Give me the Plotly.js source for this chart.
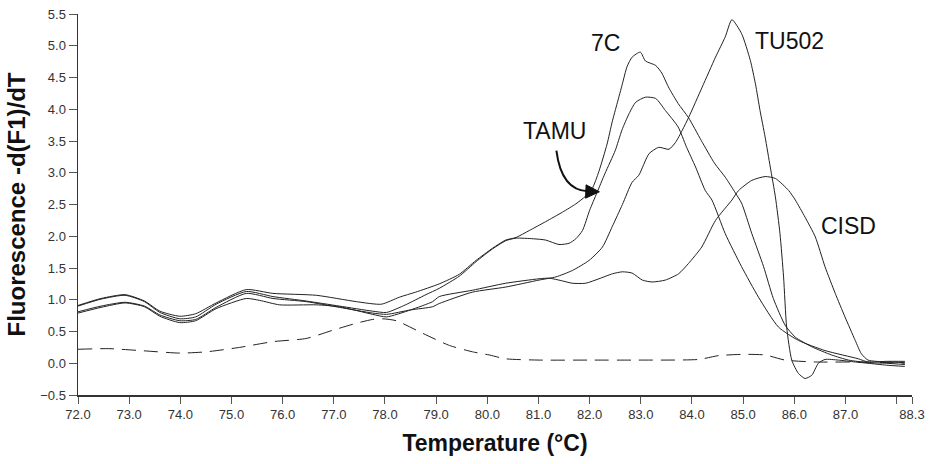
<!DOCTYPE html>
<html>
<head>
<meta charset="utf-8">
<script src="https://cdn.plot.ly/plotly-3.0.1.min.js"></script>
<style>
  html, body { margin: 0; padding: 0; background: #fff; }
  #chart { width: 932px; height: 464px; }
</style>
</head>
<body>
<div id="chart"></div>
<script>
// ---- data ----
const t7C = [72.0,72.45,72.92,73.3,73.6,73.99,74.3,74.7,75.29,75.81,76.66,77.44,77.93,78.28,78.6,79.06,79.45,79.78,80.10,80.36,80.56,80.82,81.14,81.47,81.73,81.92,82.05,82.18,82.34,82.44,82.54,82.64,82.73,82.83,82.99,83.09,83.29,83.41,83.54,83.73,83.93,84.18,84.44,84.65,84.85,84.97,85.17,85.40,85.59,85.82,86.02,86.34,86.73,87.06,87.44,87.8,88.16];
const v7C = [0.91,1.02,1.08,0.98,0.82,0.74,0.78,0.95,1.16,1.10,1.07,0.97,0.93,1.04,1.12,1.25,1.40,1.62,1.81,1.94,1.98,2.09,2.23,2.38,2.51,2.63,2.75,3.02,3.45,3.80,4.10,4.40,4.67,4.82,4.90,4.76,4.69,4.57,4.35,4.09,3.87,3.51,3.15,2.93,2.68,2.52,2.04,1.52,1.02,0.60,0.41,0.26,0.13,0.05,0.01,0.0,-0.02];

const tTAMU = [72.0,72.45,72.92,73.3,73.6,73.99,74.3,74.7,75.29,75.81,76.46,77.11,77.76,78.03,78.4,78.8,79.06,79.45,79.78,80.10,80.36,80.56,80.9,81.14,81.4,81.6,81.73,81.86,82.0,82.14,82.3,82.5,82.63,82.77,82.9,83.09,83.29,83.48,83.73,83.89,84.07,84.26,84.39,84.65,84.97,85.30,85.69,86.08,86.60,87.25,87.44,87.8,88.16];
const vTAMU = [0.90,1.01,1.07,0.97,0.80,0.70,0.73,0.93,1.13,1.05,0.98,0.90,0.82,0.80,0.92,1.08,1.18,1.37,1.60,1.80,1.93,1.97,1.96,1.94,1.87,1.89,1.96,2.09,2.41,2.68,2.99,3.35,3.67,3.93,4.11,4.19,4.17,3.98,3.72,3.41,3.09,2.72,2.57,2.04,1.52,1.04,0.57,0.36,0.20,0.07,0.02,0.03,0.03];

const tTU502 = [72.0,72.45,72.92,73.3,73.6,73.99,74.3,74.7,75.29,75.81,76.46,77.11,77.76,78.03,78.5,78.93,79.06,79.71,80.36,81.01,81.34,81.66,81.99,82.25,82.44,82.64,82.83,82.96,83.16,83.35,83.55,83.68,83.81,83.94,84.2,84.46,84.65,84.78,84.97,85.14,85.24,85.33,85.43,85.53,85.63,85.72,85.79,85.85,85.95,86.08,86.21,86.34,86.47,86.6,86.86,87.19,87.44,87.8,88.16];
const vTU502 = [0.81,0.90,0.96,0.90,0.76,0.67,0.69,0.88,1.10,1.02,0.97,0.88,0.79,0.77,0.84,0.89,0.94,1.12,1.20,1.31,1.36,1.46,1.62,1.83,2.15,2.50,2.85,2.96,3.30,3.40,3.37,3.48,3.67,3.88,4.35,4.82,5.14,5.41,5.19,4.77,4.40,3.98,3.56,3.09,2.62,2.04,1.36,0.57,0.05,-0.16,-0.24,-0.19,0.0,0.06,0.05,0.02,0.0,-0.03,-0.05];

const tCISD = [72.0,72.45,72.92,73.3,73.6,73.99,74.3,74.7,75.29,75.55,75.94,76.66,77.11,77.76,78.03,78.5,78.93,79.06,79.71,80.36,81.01,81.21,81.45,81.66,81.92,82.18,82.45,82.64,82.83,83.03,83.22,83.48,83.74,83.93,84.19,84.46,84.78,84.91,85.17,85.43,85.63,85.89,86.02,86.21,86.41,86.6,86.8,86.99,87.19,87.31,87.44,87.8,88.16];
const vCISD = [0.79,0.88,0.95,0.89,0.74,0.64,0.67,0.86,1.02,0.99,0.92,0.92,0.89,0.77,0.73,0.84,0.97,1.05,1.15,1.26,1.33,1.34,1.30,1.26,1.26,1.33,1.41,1.44,1.42,1.31,1.28,1.31,1.41,1.57,1.83,2.25,2.57,2.72,2.88,2.94,2.91,2.72,2.57,2.30,1.99,1.52,1.10,0.73,0.36,0.15,0.05,0.02,0.01];

const tNTC = [72.0,72.6,73.21,73.99,74.51,75.16,75.81,76.46,76.98,77.44,77.76,77.96,78.22,78.74,79.26,79.71,80.04,80.36,81.01,82.0,82.96,84.13,84.52,85.0,85.43,85.82,86.41,87.38,88.16];
const vNTC = [0.22,0.23,0.20,0.16,0.18,0.25,0.34,0.39,0.52,0.63,0.69,0.70,0.67,0.47,0.28,0.18,0.13,0.07,0.05,0.05,0.05,0.06,0.12,0.14,0.13,0.05,0.02,0.02,0.0];

const xTickVals = [72,73,74,75,76,77,78,79,80,81,82,83,84,85,86,87,88,88.3];
const xTickText = ["72.0","73.0","74.0","75.0","76.0","77.0","78.0","79.0","80.0","81.0","82.0","83.0","84.0","85.0","86.0","87.0","","88.3"];
const yTickVals = [-0.5,0,0.5,1,1.5,2,2.5,3,3.5,4,4.5,5,5.5];

const seriesNames = ["7C","TAMU","TU502","CISD","NTC"];

// ---- chart ----
const FONT = "Liberation Sans, Arial, Helvetica, sans-serif";
const lineSolid = {color: "#222", width: 1, shape: "spline", smoothing: 0.6};

const traces = [
  {x: t7C, y: v7C, name: seriesNames[0]},
  {x: tTAMU, y: vTAMU, name: seriesNames[1]},
  {x: tTU502, y: vTU502, name: seriesNames[2]},
  {x: tCISD, y: vCISD, name: seriesNames[3]},
].map(d => Object.assign(d, {type: "scatter", mode: "lines", line: lineSolid, hoverinfo: "skip"}));

traces.push({x: tNTC, y: vNTC, name: seriesNames[4], type: "scatter", mode: "lines",
  line: {color: "#222", width: 1, dash: "14px,8px", shape: "spline", smoothing: 0.6}, hoverinfo: "skip"});

const labelFont = {family: FONT, size: 23, color: "#111"};

const layout = {
  width: 932, height: 464,
  margin: {l: 77.7, r: 19.7, t: 14, b: 69},
  paper_bgcolor: "#fff", plot_bgcolor: "#fff",
  showlegend: false,
  font: {family: FONT, color: "#333"},
  xaxis: {
    range: [72, 88.3], showgrid: false, zeroline: false,
    showline: true, linecolor: "#333", linewidth: 1.5,
    tickmode: "array", tickvals: xTickVals, ticktext: xTickText,
    ticks: "outside", ticklen: 7, tickwidth: 1, tickcolor: "#555",
    tickfont: {family: FONT, size: 13, color: "#333"},
    title: {text: "Temperature (°C)", font: {family: FONT, size: 23, color: "#111", weight: "bold"}, standoff: 14}
  },
  yaxis: {
    range: [-0.5, 5.5], showgrid: false, zeroline: false,
    showline: true, linecolor: "#333", linewidth: 1.5,
    tickmode: "array", tickvals: yTickVals, tickformat: ".1f",
    ticks: "outside", ticklen: 8, tickwidth: 1, tickcolor: "#555",
    tickfont: {family: FONT, size: 13, color: "#333"},
    title: {text: "Fluorescence -d(F1)/dT", font: {family: FONT, size: 24, color: "#111", weight: "bold"}, standoff: 8}
  },
  annotations: [
    {x: 83.0, y: 5.0, xref: "x", yref: "y", text: "7C", showarrow: false, font: labelFont, xanchor: "center", yanchor: "middle", xshift: -35, yshift: 3},
    {x: 84.78, y: 5.0, xref: "x", yref: "y", text: "TU502", showarrow: false, font: labelFont, xanchor: "center", yanchor: "middle", xshift: 58, yshift: 5},
    {x: 81.3, y: 3.6, xref: "x", yref: "y", text: "TAMU", showarrow: false, font: labelFont, xanchor: "center", yanchor: "middle", xshift: 1, yshift: 4},
    {x: 87.0, y: 2.1, xref: "x", yref: "y", text: "CISD", showarrow: false, font: labelFont, xanchor: "center", yanchor: "middle", xshift: 3, yshift: 4}
  ],
  shapes: [
    {type: "path", xref: "x", yref: "y", path: "M 81.35,3.35 Q 81.45,2.72 81.97,2.71", line: {color: "#111", width: 2}},
    {type: "path", xref: "x", yref: "y", path: "M 81.93,2.81 L 82.19,2.70 L 81.92,2.60 Z", fillcolor: "#111", line: {color: "#111", width: 1}}
  ]
};

Plotly.newPlot("chart", traces, layout, {staticPlot: true, displayModeBar: false});
</script>
</body>
</html>
